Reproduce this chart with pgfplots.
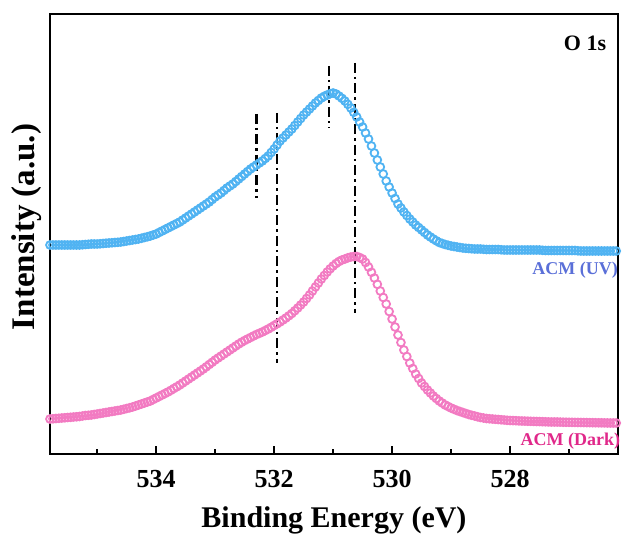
\documentclass[border=0pt]{standalone}
\usepackage{fontspec}
\setmainfont{Liberation Serif}
\usepackage{pgfplots}
\usepackage{pgfplotstable}
\pgfplotsset{compat=1.18}

\definecolor{uvblue}{HTML}{50B3F2}
\definecolor{darkpink}{HTML}{F27BC2}
\definecolor{uvtext}{HTML}{5A6FD8}
\definecolor{darktext}{HTML}{E0288A}

% O 1s spectrum, ACM under UV (offset upward)
\pgfplotstableread{
x y
535.80 209
535.75 209
535.70 209
535.65 209
535.60 209
535.55 209
535.50 209
535.45 209
535.40 209
535.35 209
535.30 209
535.25 209.2
535.20 209.5
535.15 209.7
535.10 210
535.05 210
535.00 210
534.95 210.2
534.90 210.5
534.85 210.8
534.80 211
534.75 211.2
534.70 211.5
534.65 211.7
534.60 212
534.55 212.5
534.50 213
534.45 213.5
534.40 214
534.35 214.5
534.30 215
534.25 215.7
534.20 216.5
534.15 217.2
534.10 218
534.05 219
534.00 220
533.95 221.5
533.90 223
533.85 224.5
533.80 226
533.75 227.5
533.70 229
533.65 230.5
533.60 232
533.55 234
533.50 236
533.45 238
533.40 240
533.35 242
533.30 244
533.25 246
533.20 248
533.15 250
533.10 252
533.05 254.5
533.00 257
532.95 259
532.90 261
532.85 263.5
532.80 266
532.75 268
532.70 270
532.65 272.5
532.60 275
532.55 277.5
532.50 280
532.45 282.5
532.40 285
532.35 287
532.30 289
532.25 291
532.20 293
532.15 295.5
532.10 298
532.05 301.5
532.00 305
531.95 309
531.90 313
531.85 316
531.80 319
531.75 322
531.70 325
531.65 328.5
531.60 332
531.55 335.5
531.50 339
531.45 342
531.40 345
531.35 348
531.30 351
531.25 353.5
531.20 356
531.15 357.7
531.10 359
531.05 360.3
531.00 361
530.95 360
530.90 358
530.85 355.7
530.80 353
530.75 349.7
530.70 346
530.65 341.7
530.60 337
530.55 332
530.50 327
530.45 321
530.40 315
530.35 308
530.30 301
530.25 294
530.20 287
530.15 280
530.10 273
530.05 267
530.00 261
529.95 255.5
529.90 250
529.85 246
529.80 242
529.75 238.5
529.70 235
529.65 232
529.60 229
529.55 226.5
529.50 224
529.45 221.5
529.40 219
529.35 217
529.30 215
529.25 213.2
529.20 211.5
529.15 210.5
529.10 209.5
529.05 208.7
529.00 208
528.95 207.5
528.90 207
528.85 206.5
528.80 206
528.75 205.7
528.70 205.5
528.65 205.2
528.60 205
528.55 205
528.50 205
528.45 204.7
528.40 204.5
528.35 204.5
528.30 204.5
528.25 204.5
528.20 204.5
528.15 204.2
528.10 204
528.05 204
528.00 204
527.95 204
527.90 204
527.85 204
527.80 204
527.75 204
527.70 204
527.65 204
527.60 204
527.55 204
527.50 204
527.45 203.7
527.40 203.5
527.35 203.5
527.30 203.5
527.25 203.5
527.20 203.5
527.15 203.5
527.10 203.5
527.05 203.5
527.00 203.5
526.95 203.5
526.90 203.5
526.85 203.2
526.80 203
526.75 203
526.70 203
526.65 203
526.60 203
526.55 203
526.50 203
526.45 203
526.40 203
526.35 203
526.30 203
526.25 203
526.20 203
}\uvdata

% O 1s spectrum, ACM in the dark
\pgfplotstableread{
x y
535.80 35
535.75 35.2
535.70 35.5
535.65 35.7
535.60 36
535.55 36.2
535.50 36.5
535.45 36.7
535.40 37
535.35 37.2
535.30 37.5
535.25 38
535.20 38.5
535.15 38.7
535.10 39
535.05 39.5
535.00 40
534.95 40.5
534.90 41
534.85 41.5
534.80 42
534.75 42.5
534.70 43
534.65 43.5
534.60 44
534.55 44.7
534.50 45.5
534.45 46.2
534.40 47
534.35 48
534.30 49
534.25 50
534.20 51
534.15 52
534.10 53
534.05 54.5
534.00 56
533.95 57.5
533.90 59
533.85 60.5
533.80 62
533.75 63.7
533.70 65.5
533.65 67.2
533.60 69
533.55 71
533.50 73
533.45 75
533.40 77
533.35 79
533.30 81
533.25 83
533.20 85
533.15 87.2
533.10 89.5
533.05 91.7
533.00 94
532.95 96
532.90 98
532.85 100
532.80 102
532.75 104
532.70 106
532.65 108
532.60 110
532.55 111.8
532.50 113.5
532.45 115
532.40 116.5
532.35 118
532.30 119.5
532.25 120.7
532.20 122
532.15 123.5
532.10 125
532.05 126.7
532.00 128.5
531.95 130.2
531.90 132
531.85 134
531.80 136
531.75 138.2
531.70 140.5
531.65 143.2
531.60 146
531.55 149
531.50 152
531.45 155.5
531.40 159
531.35 163
531.30 167
531.25 171
531.20 175
531.15 178.5
531.10 182
531.05 185.2
531.00 188
530.95 190.5
530.90 192.5
530.85 194
530.80 195
530.75 196.2
530.70 197
530.65 197.4
530.60 197.5
530.55 196.5
530.50 195
530.45 191.5
530.40 187
530.35 181.7
530.30 176
530.25 169.7
530.20 163
530.15 156.5
530.10 150
530.05 142.5
530.00 135
529.95 127
529.90 119
529.85 111.5
529.80 104
529.75 97.5
529.70 91
529.65 85.5
529.60 80
529.55 75.5
529.50 71
529.45 67.5
529.40 64
529.35 61
529.30 58
529.25 55.5
529.20 53
529.15 51
529.10 49
529.05 47.5
529.00 46
528.95 44.7
528.90 43.5
528.85 42.5
528.80 41.5
528.75 40.5
528.70 39.5
528.65 38.7
528.60 38
528.55 37.2
528.50 36.5
528.45 36
528.40 35.5
528.35 35.2
528.30 35
528.25 34.7
528.20 34.5
528.15 34.2
528.10 34
528.05 33.7
528.00 33.5
527.95 33.4
527.90 33.3
527.85 33.1
527.80 33
527.75 32.9
527.70 32.8
527.65 32.7
527.60 32.6
527.55 32.5
527.50 32.4
527.45 32.3
527.40 32.2
527.35 32.1
527.30 32
527.25 32
527.20 32
527.15 31.9
527.10 31.8
527.05 31.75
527.00 31.7
526.95 31.65
526.90 31.6
526.85 31.55
526.80 31.5
526.75 31.45
526.70 31.4
526.65 31.35
526.60 31.3
526.55 31.25
526.50 31.2
526.45 31.15
526.40 31.1
526.35 31.05
526.30 31
526.25 31
526.20 31
}\darkdata

\begin{document}
\begin{tikzpicture}
\useasboundingbox (-50pt,-92pt) rectangle (572pt,454pt);
\begin{axis}[
  at={(0,0)}, anchor=south west,
  scale only axis,
  width=568pt, height=440pt,
  x dir=reverse,
  xmin=526.17, xmax=535.8,
  ymin=0, ymax=440,
  axis line style={line width=1.6pt},
  xtick={528,530,532,534},
  minor xtick={527,529,531,533,535},
  ytick=\empty,
  xtick pos=bottom,
  tick align=inside,
  major tick length=8pt,
  minor tick length=5pt,
  every tick/.style={line width=1.4pt, black},
  /pgf/number format/assume math mode=true,
  /pgf/number format/.cd, 1000 sep={}, /pgfplots/.cd,
  xticklabel style={font=\fontsize{26}{26}\selectfont\bfseries, yshift=-13pt},
  xlabel={Binding Energy (eV)},
  ylabel={Intensity (a.u.)},
  xlabel style={font=\fontsize{30}{30}\selectfont\bfseries,
    at={(axis description cs:0.5,-0.152)}, anchor=center},
  ylabel style={font=\fontsize{33}{33}\selectfont\bfseries,
    at={(axis description cs:-0.041,0.516)}, anchor=center, rotate=0},
  clip=false,
]
\addplot[only marks, mark=o, mark size=3.9pt, color=uvblue,
  mark options={line width=1.8pt}] table[x=x, y=y] {\uvdata};
\addplot[only marks, mark=o, mark size=3.9pt, color=darkpink,
  mark options={line width=1.8pt}] table[x=x, y=y] {\darkdata};

% dash-dot guide lines at the component positions
\addplot[black, line width=2.2pt, dash pattern=on 10pt off 4pt on 2.5pt off 4pt]
  coordinates {(532.30,340) (532.30,256)};
\addplot[black, line width=2.2pt, dash pattern=on 10pt off 4pt on 2.5pt off 4pt]
  coordinates {(531.95,341) (531.95,91)};
\addplot[black, line width=2.2pt, dash pattern=on 10pt off 4pt on 2.5pt off 4pt]
  coordinates {(531.07,388) (531.07,326)};
\addplot[black, line width=2.2pt, dash pattern=on 10pt off 4pt on 2.5pt off 4pt]
  coordinates {(530.63,391) (530.63,141)};

\node[font=\fontsize{22}{22}\selectfont\bfseries, anchor=center]
  at (axis description cs:0.942,0.934) {O 1s};
\node[font=\fontsize{18}{18}\selectfont\bfseries, text=uvtext, anchor=east, inner sep=0pt]
  at (axis description cs:1.0,0.418) {ACM (UV)};
\node[font=\fontsize{18}{18}\selectfont\bfseries, text=darktext, anchor=east, inner sep=0pt]
  at (axis description cs:1.004,0.03) {ACM (Dark)};
\end{axis}
\end{tikzpicture}
\end{document}
